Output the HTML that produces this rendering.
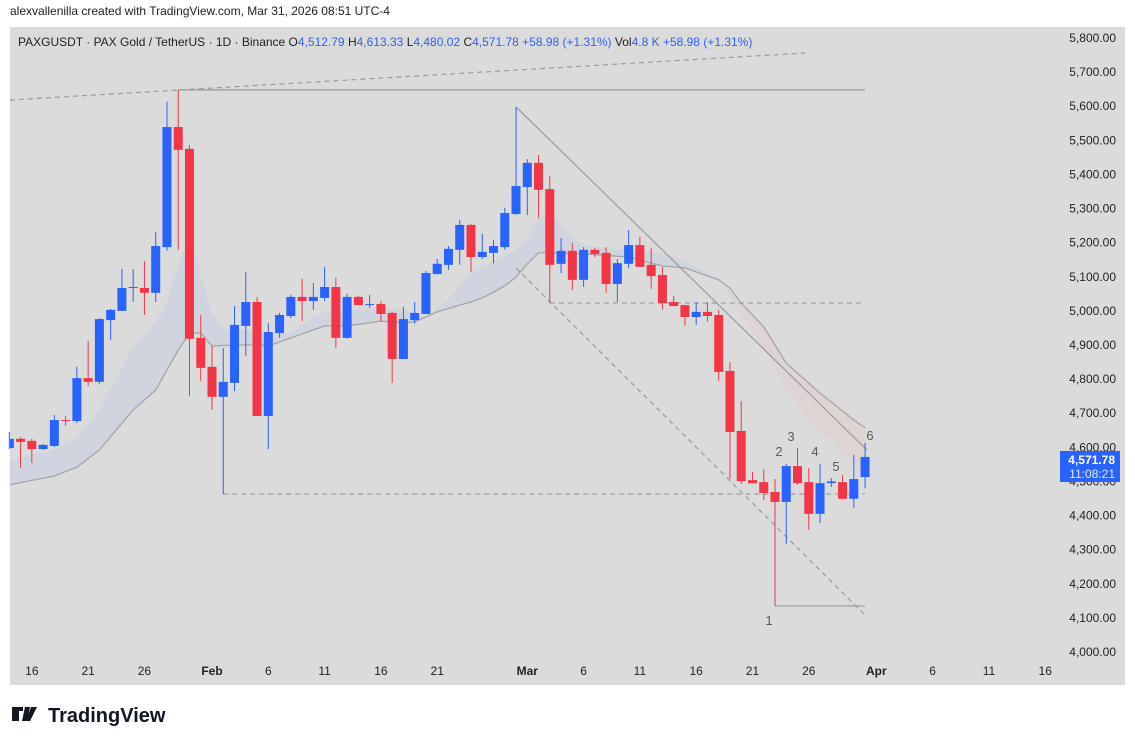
<!DOCTYPE html>
<html><head><meta charset="utf-8">
<style>
html,body{margin:0;padding:0;background:#fff;width:1135px;height:745px;overflow:hidden;font-family:"Liberation Sans",sans-serif;}
svg{display:block}
</style></head>
<body>
<svg id="chart" width="1135" height="745" xmlns="http://www.w3.org/2000/svg">
  <text x="10" y="15" font-size="12" fill="#222">alexvallenilla created with TradingView.com, Mar 31, 2026 08:51 UTC-4</text>
  <rect x="10" y="27" width="1115" height="658" fill="#dbdbdb"/>
  <g id="fills"></g>
  <g id="drawings"></g>
  <g id="candles"></g>
  <g id="yaxis"></g>
  <g id="xaxis"></g>
  <text x="18" y="46" font-size="12" fill="#222">PAXGUSDT · PAX Gold / TetherUS · 1D · Binance  <tspan>O</tspan><tspan fill="#2e62f0">4,512.79</tspan>  <tspan>H</tspan><tspan fill="#2e62f0">4,613.33</tspan>  <tspan>L</tspan><tspan fill="#2e62f0">4,480.02</tspan>  <tspan>C</tspan><tspan fill="#2e62f0">4,571.78  +58.98 (+1.31%)</tspan>  <tspan>Vol</tspan><tspan fill="#2e62f0">4.8 K  +58.98 (+1.31%)</tspan></text>
  <g>
    <path d="M12 707h11v4h-4v10h-7zM25 707h5l-3 14h-5zM31 707h6l-7 14h-4z" fill="#131722"/>
    <text x="48" y="722" font-size="20" font-weight="bold" fill="#131722">TradingView</text>
  </g>
</svg>
<script>
const days = Array.from({length:77},(_,i)=>i); // d0 = Jan 14
const opens=[4598,4625,4619,4595,4604,4680,4677,4803,4792,4973,5000,5067,5067,5053,5187,5539,5475,4921,
4836,4748,4789,4956,5026,4692,4935,4985,5041,5029,5038,5070,4921,5041,5017,5020,4994,4859,4973,4991,5108,5135,5179,5252,5158,5170,5187,5284,
5363,5434,5357,5138,5176,5091,5179,5170,5079,5138,5193,5135,5105,5026,5017,4982,4997,4988,4824,4648,4504,4498,4469,4440,4545,4498,4405,4495,4498,4449,4512.79];
const highs=[4645,4630,4625,4610,4695,4692,4836,4912,4979,5006,5123,5123,5146,5231,5613,5648,5486,4988,
4897,4891,5014,5114,5041,4965,4994,5047,5094,5082,5129,5097,5050,5044,5047,5029,4997,5012,5026,5117,5152,5190,5267,5255,5226,5208,5302,5598,
5445,5457,5396,5214,5199,5187,5185,5187,5152,5237,5217,5185,5129,5044,5017,5026,5026,5003,4850,4736,4528,4536,4507,4551,4598,4539,4551,4510,4519,4578,4613.33];
const lows=[4595,4540,4554,4592,4601,4663,4671,4780,4786,4915,5000,5026,4988,5026,5176,5179,4751,4795,
4710,4463,4765,4868,4692,4595,4921,4979,4970,5003,5029,4891,4918,5017,5009,4968,4789,4859,4962,4991,5108,5120,5135,5114,5152,5140,5179,5281,
5281,5272,5023,5111,5061,5070,5158,5053,5026,5126,5129,5064,5003,5014,4956,4959,4968,4795,4507,4493,4495,4446,4135,4317,4490,4358,4378,4484,4449,4422,4480.02];
const closes=[4625,4616,4595,4607,4680,4677,4803,4792,4976,5003,5067,5070,5053,5190,5539,5472,4918,4833,
4748,4792,4959,5026,4692,4938,4988,5041,5029,5041,5070,4921,5041,5017,5020,4991,4859,4976,4994,5111,5138,5182,5252,5158,5173,5190,5287,5366,
5434,5355,5135,5176,5091,5179,5167,5079,5140,5193,5129,5102,5023,5014,4982,4997,4985,4821,4645,4501,4495,4466,4440,4545,4495,4405,4495,4500,4449,4507,4571.78];
const slowDays=[0,4,6,8,11,13,14,15,16,17,18,20,22,23,28,30,33,35,36,38,40,41,42,43,44,45,46,47,48,51,55,57,58,60,63,64,65,67,69,72,75,76];
const slowMA=[4490,4516,4542,4592,4710,4768,4827,4885,4935,4935,4897,4900,4900,4897,4956,4956,4970,4965,4968,4997,5017,5026,5038,5055,5073,5099,5138,5170,5170,5167,5158,5140,5132,5126,5091,5067,5023,4953,4847,4759,4680,4657];
const fastDays=[0,4,6,8,11,13,14,15,16,17,18,19,21,23,25,27,29,31,33,35,37,39,41,43,45,46,47,48,49,50,51,54,56,59,61,63,65,67,69,71,73,75,76];
const fastMA=[4563,4592,4627,4710,4894,4965,5026,5129,5223,5099,4994,4944,4944,4929,4935,4979,5009,5003,5009,5003,4979,5032,5114,5143,5179,5208,5272,5290,5252,5214,5193,5179,5179,5161,5126,5096,4988,4894,4768,4680,4622,4554,4513];
const priceTicks=[5800,5700,5600,5500,5400,5300,5200,5100,5000,4900,4800,4700,4600,4500,4400,4300,4200,4100,4000];
const timeTickDays=[2,7,12,18,23,28,33,38,46,51,56,61,66,71,77,82,87,92];
const timeTickLabels=["16","21","26","Feb","6","11","16","21","Mar","6","11","16","21","26","Apr","6","11","16"];
const lastPrice=4571.78;

const NS="http://www.w3.org/2000/svg";
const yP=p=>652-(p-4000)*0.34111;
const xD=d=>212+(d-18)*11.26;
function mk(tag,attrs,parent){const e=document.createElementNS(NS,tag);for(const k in attrs)e.setAttribute(k,attrs[k]);parent.appendChild(e);return e;}
function interp(ds,vs,d){for(let i=0;i<ds.length-1;i++){if(d>=ds[i]&&d<=ds[i+1]){const t=(d-ds[i])/(ds[i+1]-ds[i]);return vs[i]+t*(vs[i+1]-vs[i]);}}return vs[vs.length-1];}

// ribbon fill
const fills=document.getElementById('fills');
for(let d=0;d<76;d++){
  const s0=interp(slowDays,slowMA,d),s1=interp(slowDays,slowMA,d+1),f0=interp(fastDays,fastMA,d),f1=interp(fastDays,fastMA,d+1);
  const up=(f0+f1)>(s0+s1);
  const x0=Math.max(10,xD(d)),x1=xD(d+1);
  const q=mk('polygon',{points:`${x0},${yP(f0)} ${x1},${yP(f1)} ${x1},${yP(s1)} ${x0},${yP(s0)}`,fill:up?'#cfd4de':'#dfd4d4',stroke:up?'#cfd4de':'#dfd4d4','stroke-width':0.5},fills);
  
  
}
const sp=mk('polyline',{points:days.map(d=>`${Math.max(10,xD(d))},${yP(interp(slowDays,slowMA,d))}`).join(' '),fill:'none',stroke:'#a6a6a6','stroke-width':1.3},fills);



// drawings
const dr=document.getElementById('drawings');
function line(x1,y1,x2,y2,dash,name){const l=mk('line',{x1,y1,x2,y2,stroke:'#9a9a9a','stroke-width':1.2},dr);if(dash)l.setAttribute('stroke-dasharray','5,4');}
line(10,100,805,53,true,'upper-dashed-trendline');
line(xD(15),yP(5648),865,yP(5648),false,'ath-horizontal-line');
line(xD(45),yP(5598),867,450,false,'descending-trendline');
line(xD(45),268,864,614,true,'parallel-dashed-channel');
line(xD(48),yP(5023),865,yP(5023),true,'support-dashed-level');
line(xD(19),yP(4463),865,yP(4463),true,'low-dashed-level');
line(xD(68),yP(4135),865,yP(4135),false,'swing-low-line');
const waveLabels=[["1",769,625],["2",779,456],["3",791,441],["4",815,456],["5",836,471],["6",870,440]];
waveLabels.forEach(w=>{const t=mk('text',{x:w[1],y:w[2],'font-size':13,fill:'#5a5a5a','text-anchor':'middle'},dr);t.textContent=w[0];});

// candles
const cg=document.getElementById('candles');
days.forEach(d=>{
  const up=closes[d]>=opens[d];const col=up?'#2962ff':'#f23645';const x=xD(d);
  const g=mk('g',{},cg);
  
  
  mk('line',{x1:x,x2:x,y1:yP(highs[d]),y2:yP(lows[d]),stroke:col,'stroke-width':1},g);
  const top=yP(Math.max(opens[d],closes[d])),bot=yP(Math.min(opens[d],closes[d]));
  const bx=Math.max(10,x-4.5);
  mk('rect',{x:bx,y:top,width:x+4.5-bx,height:Math.max(1,bot-top),fill:col},g);
});

// y axis
const ya=document.getElementById('yaxis');
priceTicks.forEach(p=>{const t=mk('text',{x:1116,y:yP(p)+4,'font-size':12,fill:'#222','text-anchor':'end'},ya);t.textContent=p.toLocaleString('en-US',{minimumFractionDigits:2});});
const pb=mk('rect',{x:1060,y:yP(lastPrice)-6,width:60,height:31,fill:'#2962ff'},ya);


const t1=mk('text',{x:1115,y:yP(lastPrice)+7,'font-size':12,'font-weight':'bold',fill:'#fff','text-anchor':'end'},ya);t1.textContent=lastPrice.toLocaleString('en-US',{minimumFractionDigits:2});


const t2=mk('text',{x:1115,y:yP(lastPrice)+21,'font-size':12,fill:'#e0e6ff','text-anchor':'end'},ya);t2.textContent='11:08:21';



// x axis
const xa=document.getElementById('xaxis');
timeTickDays.forEach((d,i)=>{const bold=isNaN(+timeTickLabels[i]);const t=mk('text',{x:xD(d),y:675,'font-size':12,fill:'#222','text-anchor':'middle','font-weight':bold?'bold':'normal'},xa);t.textContent=timeTickLabels[i];});
</script>
</body></html>
